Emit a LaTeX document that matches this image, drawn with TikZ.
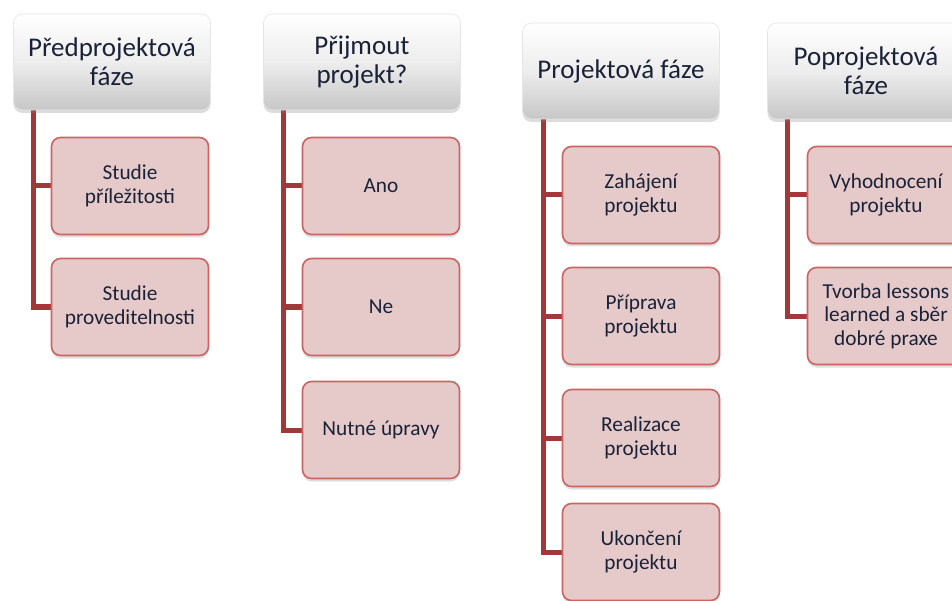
\documentclass[tikz,border=0pt]{standalone}
\usepackage{fontspec}
\setmainfont{Carlito}
\usetikzlibrary{shadows,backgrounds}
\definecolor{txt}{HTML}{1A2238}
\definecolor{childfill}{HTML}{E6CACA}
\definecolor{childdraw}{HTML}{CB6463}
\definecolor{conncol}{HTML}{A03A3A}
\tikzset{
  x=1pt,y=-1pt,
  hdr/.style={rounded corners=9pt, top color=white, bottom color=black!22,
    middle color=white!93!black, draw=black!10, line width=0.6pt,
    minimum width=197pt, minimum height=96pt, align=center,
    font=\fontsize{27}{29}\selectfont, text=txt, inner sep=2pt,
    drop shadow={opacity=0.28, shadow xshift=0pt, shadow yshift=-3pt}},
  child/.style={rounded corners=9pt, fill=childfill, draw=childdraw, line width=1.6pt,
    minimum width=157pt, minimum height=97pt, align=center,
    font=\fontsize{21.3}{23.5}\selectfont, text=txt, inner sep=2pt,
    drop shadow={opacity=0.25, shadow xshift=0pt, shadow yshift=-3pt}},
  conn/.style={draw=conncol, line width=5pt}
}
\begin{document}
\begin{tikzpicture}
\useasboundingbox (0,0) rectangle (952,601);
% column 1
\node[hdr] (h1) at (112,62) {Předprojektová\\fáze};
\node[child] (c1a) at (130,186) {Studie\\příležitosti};
\node[child] (c1b) at (130,307) {Studie\\proveditelnosti};
% column 2
\node[hdr] (h2) at (362,62) {Přijmout\\projekt?};
\node[child] (c2a) at (381,186) {Ano};
\node[child] (c2b) at (381,307) {Ne};
\node[child] (c2c) at (381,430) {Nutné úpravy};
% column 3
\node[hdr] (h3) at (621,71) {Projektová fáze};
\node[child] (c3a) at (641,195) {Zahájení\\projektu};
\node[child] (c3b) at (641,316) {Příprava\\projektu};
\node[child] (c3c) at (641,438) {Realizace\\projektu};
\node[child] (c3d) at (641,552) {Ukončení\\projektu};
% column 4
\node[hdr] (h4) at (866,71) {Poprojektová\\fáze};
\node[child] (c4a) at (886,195) {Vyhodnocení\\projektu};
\node[child] (c4b) at (886,316) {Tvorba lessons\\learned a sběr\\dobré praxe};
\begin{scope}[on background layer]
\coordinate (t1) at (33,100);
\coordinate (t2) at (283,100);
\coordinate (t3) at (543,110);
\coordinate (t4) at (787,110);
\draw[conn] (t1) |- (c1a.west);
\draw[conn] (t1) |- (c1b.west);
\draw[conn] (t2) |- (c2a.west);
\draw[conn] (t2) |- (c2b.west);
\draw[conn] (t2) |- (c2c.west);
\draw[conn] (t3) |- (c3a.west);
\draw[conn] (t3) |- (c3b.west);
\draw[conn] (t3) |- (c3c.west);
\draw[conn] (t3) |- (c3d.west);
\draw[conn] (t4) |- (c4a.west);
\draw[conn] (t4) |- (c4b.west);
\end{scope}
\end{tikzpicture}
\end{document}
